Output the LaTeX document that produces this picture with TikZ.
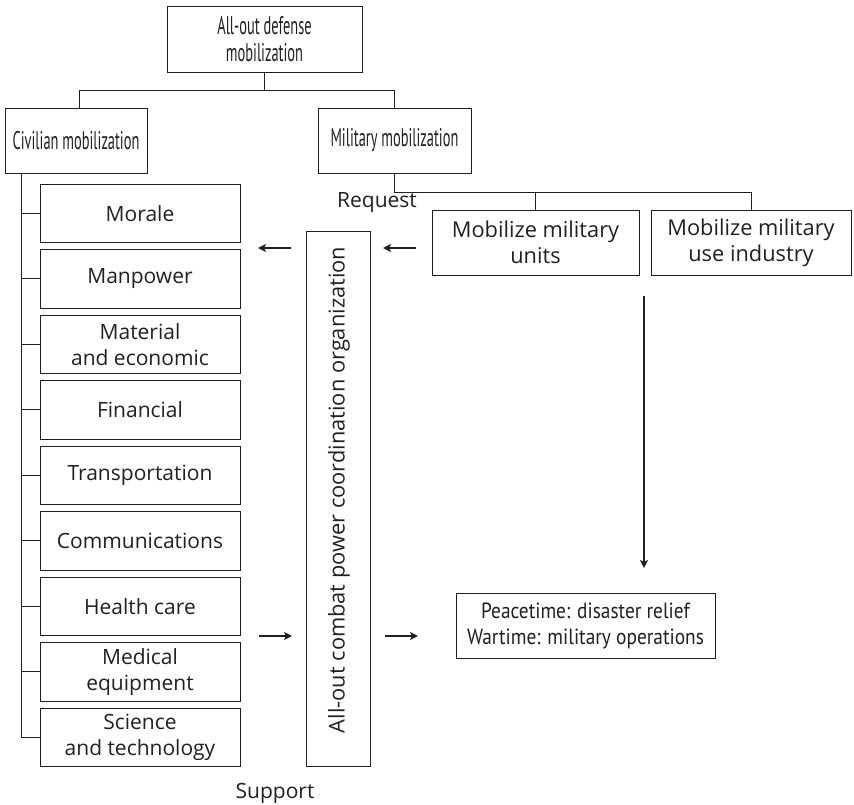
\documentclass[tikz,border=0pt]{standalone}
\usepackage{fontspec}
\setmainfont{Open Sans}
\newfontfamily\narrowfont[FakeStretch=0.565]{PT Sans}
\newfontfamily\peacefont[FakeStretch=0.88]{PT Sans}
\usetikzlibrary{arrows.meta}
\definecolor{ink}{HTML}{231F20}
\tikzset{
  box/.style={draw=ink, line width=0.9pt, inner sep=0pt, align=center, text=ink},
  subbox/.style={box, minimum width=200pt, minimum height=58.5pt, font=\fontsize{21}{26}\selectfont},
  bigbox/.style={box, font=\narrowfont\fontsize{25.5}{27}\selectfont},
  link/.style={draw=ink, line width=0.9pt},
  arr/.style={draw=ink, line width=1.6pt, -{Stealth[length=8pt,width=8pt,inset=2pt]}},
  lbl/.style={text=ink, inner sep=0pt, font=\fontsize{21}{26}\selectfont}
}
\begin{document}
\begin{tikzpicture}[x=1pt,y=-1pt]
\useasboundingbox (0,0) rectangle (854,805);
% top level
\node[bigbox, minimum width=195pt, minimum height=66pt] (top) at (264.5,39.5) {All-out defense\\mobilization};
\node[bigbox, minimum width=142pt, minimum height=65pt] (civ) at (76,140.5) {Civilian mobilization};
\node[bigbox, minimum width=153pt, minimum height=65pt] (mil) at (394.5,140.5) {Military mobilization};
\draw[link] (top.south) -- ++(0,18) coordinate (split) -| (79,108);
\draw[link] (split) -| (mil.north);
% civilian sub-boxes
\foreach \name/\txt [count=\i from 0] in {s1/Morale, s2/Manpower, s3/{Material\\and economic}, s4/Financial, s5/Transportation, s6/Communications, s7/Health care, s8/{Medical\\equipment}, s9/{Science\\and technology}}{
  \node[subbox] (\name) at (140,213.25+65.5*\i) {\txt};
  \draw[link] (\name.west) -- ++(-19,0);
}
\coordinate (trunkx) at (21,0);
\draw[link] (civ.south -| trunkx) -- (s9.west -| trunkx);
% coordination organisation
\node[box, minimum width=64pt, minimum height=535pt] (coord) at (338,498.5) {};
\node[lbl, rotate=90, font=\fontsize{21.8}{26}\selectfont] (coordtxt) at ([xshift=1pt,yshift=8.5pt]coord.center) {All-out combat power coordination organization};
% military sub-boxes
\node[subbox, minimum width=207pt, minimum height=65pt, font=\fontsize{21.8}{26}\selectfont] (units) at (535.5,242.5) {Mobilize military\\units};
\node[subbox, minimum width=200pt, minimum height=65pt, font=\fontsize{21.8}{26}\selectfont] (ind) at (751,242.5) {Mobilize military\\use industry};
\draw[link] (mil.south) -- ++(0,19) coordinate (msplit) -| (units.north);
\draw[link] (msplit) -| (ind.north);
% outcome
\node[box, font=\peacefont\fontsize{22}{26}\selectfont, minimum width=259pt, minimum height=65pt] (out) at (585.5,625.5) {Peacetime: disaster relief\\Wartime: military operations};
\coordinate (la) at (644,296);
\coordinate (lb) at (644,568);
\draw[arr] (la) -- (lb);
% small arrows
\coordinate (r1a) at (416,248); \coordinate (r1b) at (383,248);
\coordinate (r2a) at (291,248); \coordinate (r2b) at (258,248);
\coordinate (s1a) at (259,636); \coordinate (s1b) at (292,636);
\coordinate (s2a) at (385,636); \coordinate (s2b) at (418,636);
\draw[arr] (r1a) -- (r1b);
\draw[arr] (r2a) -- (r2b);
\draw[arr] (s1a) -- (s1b);
\draw[arr] (s2a) -- (s2b);
% labels
\node[lbl] (req) at (377,203) {Request};
\node[lbl] (sup) at (275,793) {Support};
\end{tikzpicture}
\end{document}
